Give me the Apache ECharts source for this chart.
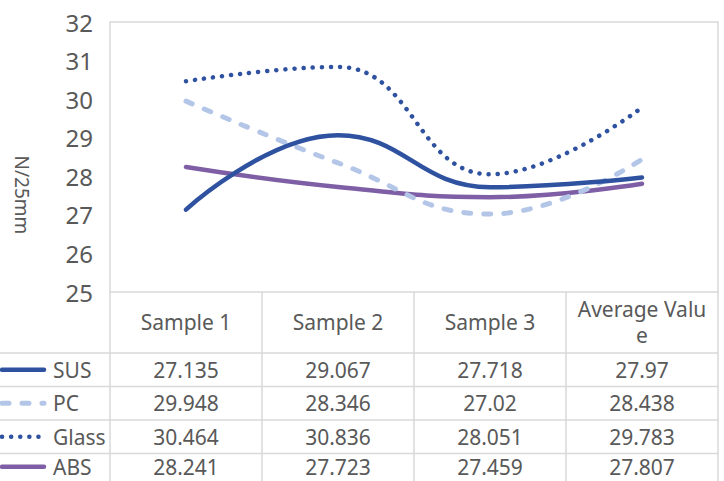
<!DOCTYPE html>
<html><head><meta charset="utf-8">
<script src="https://cdn.jsdelivr.net/npm/echarts@6/dist/echarts.min.js"></script>
<style>html,body{margin:0;padding:0;background:#fff}#c{width:724px;height:481px}</style>
</head><body><div id="c"></div>
<script>
var categories = ['Sample 1', 'Sample 2', 'Sample 3', 'Average Value'];
var seriesNames = ['SUS', 'PC', 'Glass', 'ABS'];
var SUS = [27.135, 29.067, 27.718, 27.97];
var PC = [29.948, 28.346, 27.02, 28.438];
var Glass = [30.464, 30.836, 28.051, 29.783];
var ABS = [28.241, 27.723, 27.459, 27.807];
var yTicks = [25, 26, 27, 28, 29, 30, 31, 32];
var yName = 'N/25mm';

var values = [SUS, PC, Glass, ABS];
var colors = ['#2F52A0', '#B4C6E7', '#2F52A0', '#7E5FA5'];
var lineTypes = ['solid', [7, 13], [0.1, 9], 'solid'];
var widths = [4.5, 5, 4.5, 4.5];
var FONT = '"Noto Sans", "Open Sans", sans-serif';
var TXT = '#595959';
var GRIDC = '#d9d9d9';
var TFS = 21;

var chart = echarts.init(document.getElementById('c'), null, {renderer: 'svg'});
var option = {
  animation: false,
  grid: {left: 110, right: 6, top: 22, bottom: 189, show: true, borderColor: GRIDC, borderWidth: 1.5},
  xAxis: {
    type: 'category', data: categories, boundaryGap: true,
    axisLine: {show: false},
    axisTick: {show: true, interval: 0, length: 200, lineStyle: {color: GRIDC, width: 1.5}},
    axisLabel: {interval: 0, fontFamily: FONT, fontSize: TFS, color: TXT, margin: 30, verticalAlign: 'middle',
      width: 132, overflow: 'breakAll', lineHeight: 26}
  },
  yAxis: {
    type: 'value', min: yTicks[0], max: yTicks[yTicks.length - 1], interval: 1,
    splitLine: {show: false}, axisLine: {show: false}, axisTick: {show: false},
    axisLabel: {fontFamily: FONT, fontSize: 24, color: TXT, margin: 17}
  },
  series: seriesNames.map(function (n, i) {
    return {
      name: n, type: 'line', data: values[i], smooth: 0.45, showSymbol: false, symbol: 'none',
      lineStyle: {color: colors[i], width: widths[i], type: lineTypes[i], cap: 'round'},
      z: 10 - i
    };
  })
};
chart.setOption(option);

// axis title and data table below the plot
var g = [{type: 'text', x: 22, y: 195, rotation: -Math.PI / 2,
  style: {text: yName, align: 'center', verticalAlign: 'middle', fontFamily: FONT, fontSize: 19, fill: TXT}}];
var rowTop = 353, rowH = 33.5;
for (var r = 0; r < 4; r++) {
  var y = rowTop + r * rowH;
  g.push({type: 'line', shape: {x1: 0, y1: y, x2: 718, y2: y}, style: {stroke: GRIDC, lineWidth: 1.5}});
}
seriesNames.forEach(function (n, i) {
  var cy = rowTop + i * rowH + rowH / 2 - (i === 3 ? 3.5 : 0);
  g.push({type: 'line', shape: {x1: 2, y1: cy, x2: 44, y2: cy},
    style: {stroke: colors[i], lineWidth: widths[i], lineDash: lineTypes[i] === 'solid' ? null : lineTypes[i], lineCap: 'round'}});
  g.push({type: 'text', style: {text: n, x: 53, y: cy, verticalAlign: 'middle', lineHeight: 20,
    fontFamily: FONT, fontSize: TFS, fill: TXT}});
  values[i].forEach(function (v, j) {
    var px = chart.convertToPixel({xAxisIndex: 0}, categories[j]);
    g.push({type: 'text', style: {text: String(v), x: px, y: cy, align: 'center', lineHeight: 20,
      verticalAlign: 'middle', fontFamily: FONT, fontSize: TFS, fill: TXT}});
  });
});
chart.setOption({graphic: g});
</script>
</body></html>
